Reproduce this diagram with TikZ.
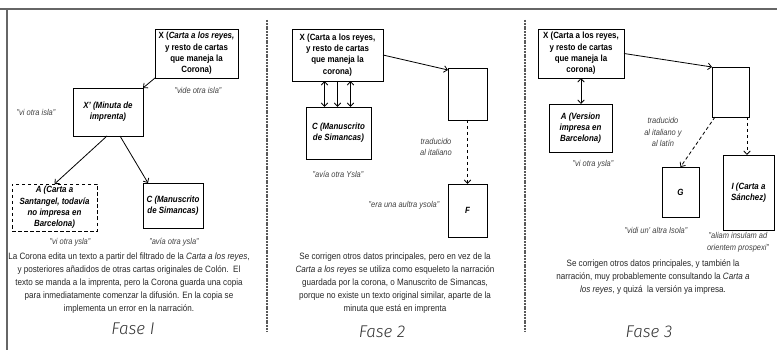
\documentclass[tikz,border=0pt]{standalone}
\usepackage{fontspec}
\setmainfont{Liberation Sans}[FakeStretch=0.88]
\newfontfamily\thinfont{Fira Sans Light}
\usetikzlibrary{arrows.meta,calc}
\tikzset{
  box/.style={draw, line width=0.9pt, inner sep=0pt, outer sep=0pt, align=center,
    font=\bfseries\fontsize{9}{11.3}\selectfont},
  ibox/.style={box, font=\bfseries\itshape\fontsize{9}{11.3}\selectfont},
  lab/.style={font=\itshape\fontsize{8.5}{11.5}\selectfont, text=black!75, align=center, inner sep=0pt},
  para/.style={font=\fontsize{9.2}{13}\selectfont, align=center, text=black!85, inner sep=0pt},
  fase/.style={font=\thinfont\itshape\fontsize{17}{20}\selectfont, text=black!80, inner sep=0pt},
  tip/.tip={Straight Barb[length=3.5pt,width=6.5pt]},
  arr/.style={-tip, line width=0.8pt},
  dbl/.style={tip-tip, line width=0.8pt},
  dsh/.style={-tip, line width=0.8pt, dash pattern=on 3.5pt off 2.5pt},
  divider/.style={draw=black!65, line width=1.4pt, dash pattern=on 2pt off 0.8pt},
  frame/.style={draw=black!60, line width=1.3pt}
}
\begin{document}
\begin{tikzpicture}[x=1pt,y=-1pt]
\useasboundingbox (0,0) rectangle (777,350);
% frame lines
\coordinate (tl) at (0,9);
\coordinate (tr) at (777,9);
\coordinate (lt) at (7,9);
\coordinate (lb) at (7,350);
\draw[frame] (tl) -- (tr);
\draw[frame] (lt) -- (lb);
\coordinate (d1t) at (267,20);
\coordinate (d1b) at (267,332);
\coordinate (d2t) at (525,20);
\coordinate (d2b) at (525,332);
\draw[divider] (d1t) -- (d1b);
\draw[divider] (d2t) -- (d2b);

% ---------- Fase I
\node[box, minimum width=83pt, minimum height=49pt] (x1) at (196.5,53.5)
  {X (\textit{Carta a los reyes,}\\y resto de cartas\\que maneja la\\Corona)};
\node[ibox, minimum width=70pt, minimum height=48pt] (xp) at (108,112)
  {X' (Minuta de\\imprenta)};
\node[ibox, dash pattern=on 3.5pt off 2.5pt, minimum width=85pt, minimum height=47pt] (a1) at (54.5,207.5)
  {A (Carta a\\Santangel, todavía\\no impresa en\\Barcelona)};
\node[ibox, minimum width=60pt, minimum height=45pt] (c1) at (173,205.5)
  {C (Manuscrito\\de Simancas)};
\draw[arr] (x1.south west) -- (xp.north east);
\draw[arr] ([xshift=-1pt]xp.south) -- (a1.north);
\draw[arr] ([xshift=12pt]xp.south) -- ([xshift=5pt]c1.north west);
\node[lab] (l1a) at (198,90) {"vide otra isla"};
\node[lab] (l1b) at (36,112) {"vi otra isla"};
\node[lab] (l1c) at (70,242) {"vi otra ysla"};
\node[lab] (l1d) at (174,242) {"avía otra ysla"};
\node[para] (p1) at (129,283) {La Corona edita un texto a partir del filtrado de la \textit{Carta a los reyes},\\
  y posteriores añadidos de otras cartas originales de Colón.\ \ El\\
  texto se manda a la imprenta, pero la Corona guarda una copia\\
  para inmediatamente comenzar la difusión. En la copia se\\
  implementa un error en la narración.};
\node[fase] (f1) at (133,329) {Fase I};

% ---------- Fase 2
\node[box, minimum width=91pt, minimum height=52pt] (x2) at (337.5,55)
  {X (Carta a los reyes,\\y resto de cartas\\que maneja la\\corona)};
\node[ibox, minimum width=65pt, minimum height=52pt] (c2) at (338.5,133)
  {C (Manuscrito\\de Simancas)};
\node[box, minimum width=39pt, minimum height=52pt] (e2) at (467.5,94) {};
\node[ibox, minimum width=39pt, minimum height=53pt] (f2) at (467.5,210.5) {F};
\draw[dbl] ([xshift=-13pt]x2.south) -- ([xshift=-13pt]x2.south |- c2.north);
\draw[arr] (x2.south) -- (x2.south |- c2.north);
\draw[dbl] ([xshift=13pt]x2.south) -- ([xshift=13pt]x2.south |- c2.north);
\draw[arr] (x2.east) -- ([yshift=-2pt]e2.north west);
\draw[dsh] (e2.south) -- (f2.north);
\node[lab] (l2a) at (338,174) {"avía otra Ysla"};
\node[lab] (l2b) at (436,147) {traducido\\al italiano};
\node[lab] (l2c) at (404,205) {"era una aultra ysola"};
\node[para] (p2) at (395,283) {Se corrigen otros datos principales, pero en vez de la\\
  \textit{Carta a los reyes} se utiliza como esqueleto la narración\\
  guardada por la corona, o Manuscrito de Simancas,\\
  porque no existe un texto original similar, aparte de la\\
  minuta que está en imprenta};
\node[fase] (f2t) at (382,332) {Fase 2};

% ---------- Fase 3
\node[box, minimum width=86pt, minimum height=49pt] (x3) at (581,53.5)
  {X (Carta a los reyes,\\y resto de cartas\\que maneja la\\corona)};
\node[ibox, minimum width=63pt, minimum height=48pt] (a3) at (580.5,128)
  {A (Version\\impresa en\\Barcelona)};
\node[box, minimum width=37pt, minimum height=50pt] (e3) at (730.5,92) {};
\node[ibox, minimum width=37pt, minimum height=50pt] (g3) at (680.5,192) {G};
\node[ibox, minimum width=51pt, minimum height=75pt] (i3) at (748.5,192.5)
  {I (Carta a\\Sánchez)};
\draw[dbl] (x3.south) -- (x3.south |- a3.north);
\draw[arr] (x3.east) -- (e3.north west);
\draw[dsh] ([xshift=3pt]e3.south west) -- (g3.north);
\draw[dsh] ([xshift=-2pt]e3.south east) -- ([xshift=-2pt]e3.south east |- i3.north);
\node[lab] (l3a) at (593,164) {"vi otra ysla"};
\node[lab] (l3b) at (663,132) {traducido\\al italiano y\\al latín};
\node[lab] (l3c) at (656,230) {"vidi un' altra Isola"};
\node[lab] (l3d) at (738,242.5) {"aliam insulam ad\\orientem prospexi"};
\node[para] (p3) at (653,277) {Se corrigen otros datos principales, y también la\\
  narración, muy probablemente consultando la \textit{Carta a}\\
  \textit{los reyes}, y quizá\ \ la versión ya impresa.};
\node[fase] (f3t) at (649,332) {Fase 3};
\end{tikzpicture}
\end{document}
